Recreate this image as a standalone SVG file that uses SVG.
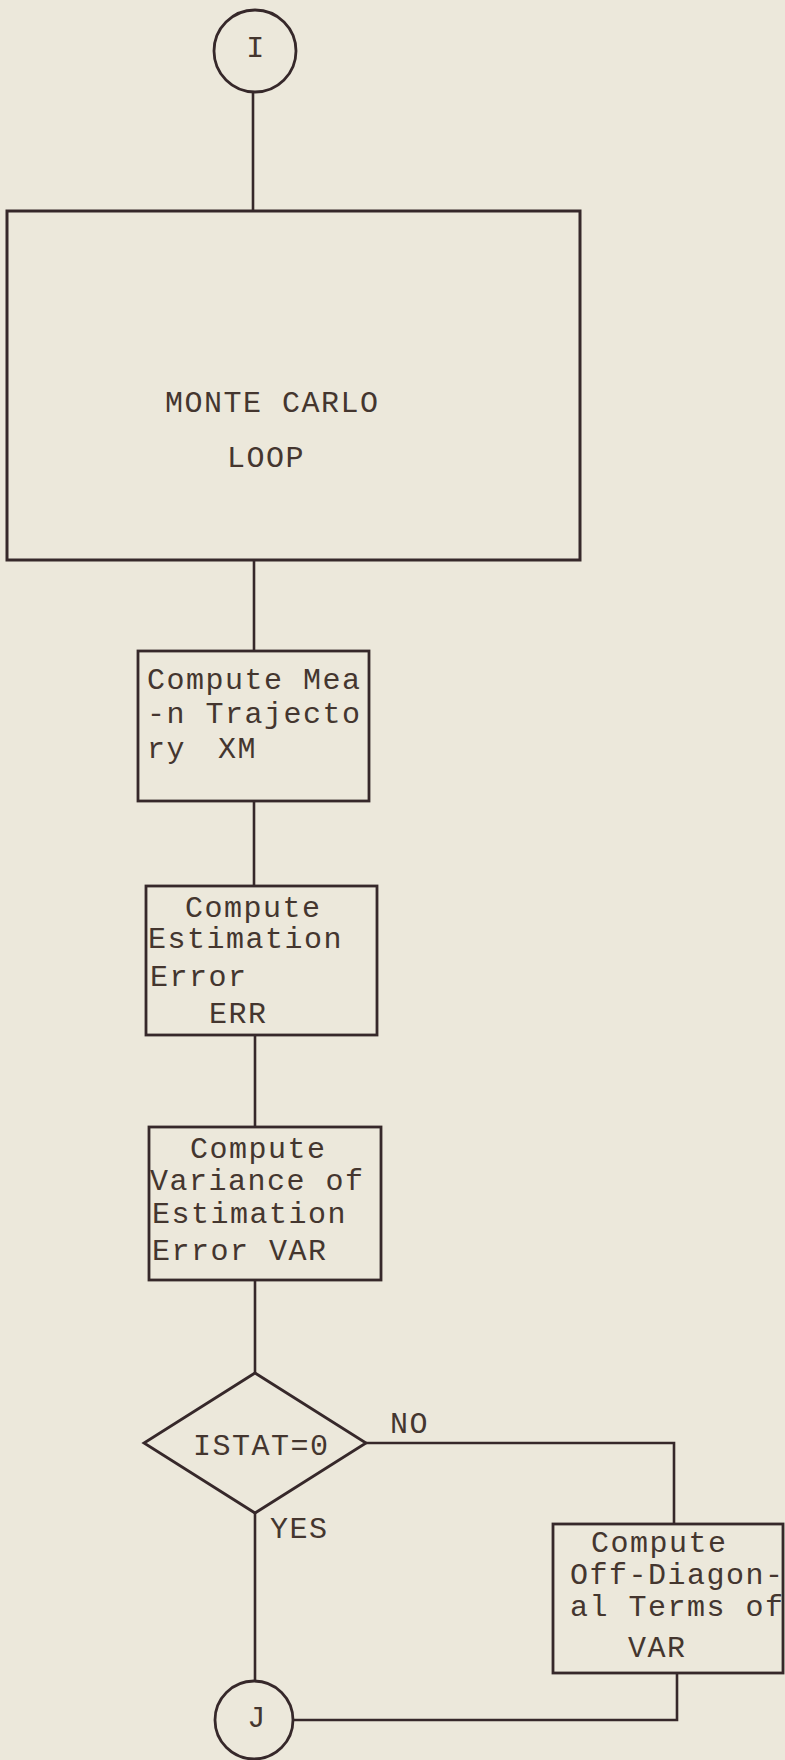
<svg xmlns="http://www.w3.org/2000/svg" width="785" height="1760" viewBox="0 0 785 1760">
  <style>
    .bg { fill: #ece8db; }
    .shape { fill: none; stroke: #36282a; stroke-width: 2.8; stroke-linejoin: miter; }
    .wire { fill: none; stroke: #36282a; stroke-width: 2.6; }
    .txt { font-family: "Liberation Mono", "DejaVu Sans Mono", monospace; font-size: 30px; letter-spacing: 1.5px; fill: #44362f; }
  </style>
  <rect class="bg" x="0" y="0" width="785" height="1760"/>

  <!-- connectors -->
  <g id="connectors">
    <path class="wire" d="M253,92 V211"/>
    <path class="wire" d="M254,560 V651"/>
    <path class="wire" d="M254,801 V886"/>
    <path class="wire" d="M255,1035 V1127"/>
    <path class="wire" d="M255,1280 V1373"/>
    <path class="wire" d="M366,1443 H674 V1524"/>
    <path class="wire" d="M255,1513 V1681"/>
    <path class="wire" d="M677,1673 V1720 H293"/>
  </g>

  <!-- connector labels -->
  <g id="labels">
    <text class="txt" x="390" y="1433">NO</text>
    <text class="txt" x="270" y="1538">YES</text>
  </g>

  <!-- entry connector I -->
  <g id="node-I">
    <circle class="shape" cx="255" cy="51" r="41"/>
    <text class="txt" x="256" y="57" text-anchor="middle">I</text>
  </g>

  <!-- Monte Carlo loop block -->
  <g id="node-monte-carlo">
    <rect class="shape" x="7" y="211" width="573" height="349" style="stroke-width:3"/>
    <text class="txt" x="165" y="412">MONTE CARLO</text>
    <text class="txt" x="227" y="467">LOOP</text>
  </g>

  <!-- mean trajectory -->
  <g id="node-mean">
    <rect class="shape" x="138" y="651" width="231" height="150"/>
    <text class="txt" x="147" y="689">Compute Mea</text>
    <text class="txt" x="147" y="723">-n Trajecto</text>
    <text class="txt" x="147" y="758">ry<tspan x="218">XM</tspan></text>
  </g>

  <!-- estimation error -->
  <g id="node-err">
    <rect class="shape" x="146" y="886" width="231" height="149"/>
    <text class="txt" x="185" y="917">Compute</text>
    <text class="txt" x="148" y="948">Estimation</text>
    <text class="txt" x="150" y="986">Error</text>
    <text class="txt" x="209" y="1023">ERR</text>
  </g>

  <!-- variance of estimation error -->
  <g id="node-var">
    <rect class="shape" x="149" y="1127" width="232" height="153"/>
    <text class="txt" x="190" y="1158">Compute</text>
    <text class="txt" x="150" y="1190">Variance of</text>
    <text class="txt" x="152" y="1223">Estimation</text>
    <text class="txt" x="152" y="1260">Error VAR</text>
  </g>

  <!-- decision -->
  <g id="node-istat">
    <polygon class="shape" points="255,1373 366,1443 255,1513 144,1443"/>
    <text class="txt" x="193" y="1455">ISTAT=0</text>
  </g>

  <!-- off-diagonal terms -->
  <g id="node-offdiag">
    <rect class="shape" x="553" y="1524" width="230" height="149"/>
    <text class="txt" x="591" y="1552">Compute</text>
    <text class="txt" x="570" y="1584">Off-Diagon-</text>
    <text class="txt" x="570" y="1616">al Terms of</text>
    <text class="txt" x="628" y="1657">VAR</text>
  </g>

  <!-- exit connector J -->
  <g id="node-J">
    <circle class="shape" cx="254" cy="1720" r="39"/>
    <text class="txt" x="257" y="1727" text-anchor="middle">J</text>
  </g>
</svg>
